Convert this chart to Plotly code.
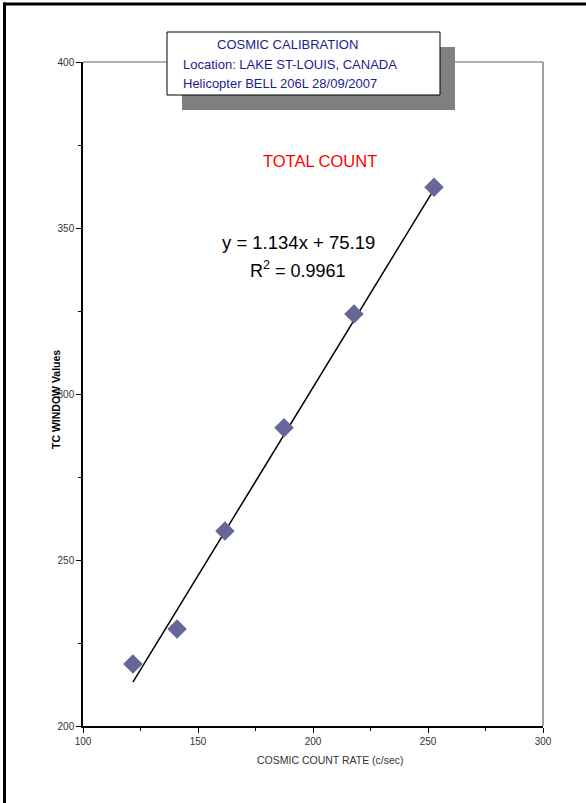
import plotly.graph_objects as go

# Data
cosmic_rate = [121.7, 140.9, 161.7, 187.4, 217.8, 252.6]
tc_window = [218.7, 229.2, 258.7, 289.8, 324.1, 362.3]
slope = 1.134
intercept = 75.19
r_squared = 0.9961
x_ticks = [100, 150, 200, 250, 300]
y_ticks = [200, 250, 300, 350, 400]

W, H = 586, 803
L, R, T, B = 83, 543, 62, 726
pw, ph = R - L, B - T

def px(x):
    return (x - L) / pw

def py(y):
    return (B - y) / ph

FONT = "Arial, Liberation Sans, sans-serif"

trend_x = [min(cosmic_rate), max(cosmic_rate)]
trend_y = [slope * v + intercept for v in trend_x]

fig = go.Figure()
fig.add_trace(go.Scatter(x=trend_x, y=trend_y, mode="lines",
                         line=dict(color="black", width=1.5), hoverinfo="skip"))
fig.add_trace(go.Scatter(x=cosmic_rate, y=tc_window, mode="markers",
                         marker=dict(symbol="diamond", size=15, color="#666699",
                                     line=dict(width=0))))

shapes = [
    # page border (left and top)
    dict(type="line", xref="paper", yref="paper",
         x0=px(4.5), x1=px(4.5), y0=py(803), y1=py(2.5),
         line=dict(color="black", width=3)),
    dict(type="line", xref="paper", yref="paper",
         x0=px(3), x1=px(586), y0=py(4), y1=py(4),
         line=dict(color="black", width=3)),
    # top and right frame in gray
    dict(type="line", xref="paper", yref="paper", x0=0, x1=1, y0=1, y1=1,
         line=dict(color="#999999", width=1.5)),
    dict(type="line", xref="paper", yref="paper", x0=1, x1=1, y0=0, y1=1,
         line=dict(color="#808080", width=1.5)),
    # title box shadow
    dict(type="rect", xref="paper", yref="paper",
         x0=px(182), x1=px(455), y0=py(110), y1=py(47),
         fillcolor="#808080", line=dict(width=0)),
    # title box
    dict(type="rect", xref="paper", yref="paper",
         x0=px(167), x1=px(440), y0=py(95), y1=py(32),
         fillcolor="white", line=dict(color="black", width=1)),
]

navy = "#1c1c8f"
annotations = [
    dict(text="COSMIC CALIBRATION", xref="paper", yref="paper", x=px(287), y=py(45),
         showarrow=False, xanchor="center", yanchor="middle",
         font=dict(family=FONT, size=13, color=navy)),
    dict(text="Location: LAKE ST-LOUIS, CANADA", xref="paper", yref="paper", x=px(181), y=py(64),
         showarrow=False, xanchor="left", yanchor="middle",
         font=dict(family=FONT, size=13, color=navy)),
    dict(text="Helicopter BELL 206L 28/09/2007", xref="paper", yref="paper", x=px(181), y=py(84),
         showarrow=False, xanchor="left", yanchor="middle",
         font=dict(family=FONT, size=13, color=navy)),
    dict(text="TOTAL COUNT", xref="paper", yref="paper", x=px(320), y=py(161),
         showarrow=False, xanchor="center", yanchor="middle",
         font=dict(family=FONT, size=16.5, color="#ff0000")),
    dict(text=f"y = {slope}x + {intercept}", xref="paper", yref="paper", x=px(298), y=py(242),
         showarrow=False, xanchor="center", yanchor="middle",
         font=dict(family=FONT, size=18.5, color="black")),
    dict(text=f"R<sup>2</sup> = {r_squared}", xref="paper", yref="paper", x=px(298), y=py(269),
         showarrow=False, xanchor="center", yanchor="middle",
         font=dict(family=FONT, size=18, color="black")),
    dict(text="<b>TC WINDOW Values</b>", xref="paper", yref="paper", x=px(56), y=py(400),
         showarrow=False, xanchor="center", yanchor="middle", textangle=-90,
         font=dict(family=FONT, size=10.5, color="black")),
    dict(text="COSMIC COUNT RATE (c/sec)", xref="paper", yref="paper", x=px(330), y=py(760),
         showarrow=False, xanchor="center", yanchor="middle",
         font=dict(family=FONT, size=10.5, color="#333333")),
]

fig.update_layout(
    width=W, height=H,
    margin=dict(l=L, r=W - R, t=T, b=H - B, pad=0),
    paper_bgcolor="white", plot_bgcolor="white",
    showlegend=False,
    shapes=shapes, annotations=annotations,
    xaxis=dict(range=[100, 300], tickvals=x_ticks, ticks="outside", ticklen=5,
               tickcolor="black", showline=True, linecolor="black", linewidth=1.5,
               showgrid=False, zeroline=False,
               minor=dict(dtick=25, tick0=0, ticks="outside", ticklen=3, tickcolor="black"),
               tickfont=dict(family=FONT, size=10, color="#333333")),
    yaxis=dict(range=[200, 400], tickvals=y_ticks, ticks="outside", ticklen=5,
               tickcolor="black", showline=True, linecolor="black", linewidth=1.5,
               showgrid=False, zeroline=False,
               minor=dict(dtick=25, tick0=0, ticks="outside", ticklen=3, tickcolor="black"),
               tickfont=dict(family=FONT, size=10, color="#333333")),
)

fig.write_html("out.html", config={"displayModeBar": False},
               post_script="document.body.style.margin='0';document.body.style.overflow='hidden';")
